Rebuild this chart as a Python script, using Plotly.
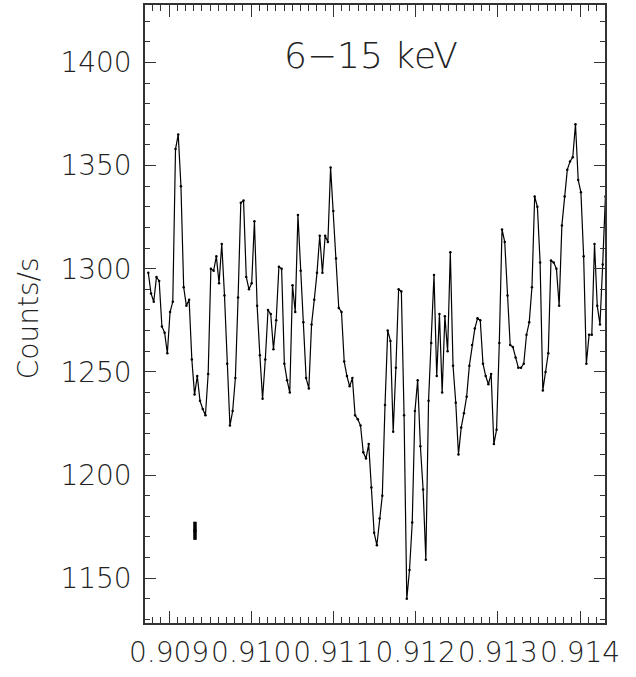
import numpy as np
import plotly.graph_objects as go

# Count rate (counts/s) per time bin
rate = [
    1298, 1288, 1284, 1296, 1294, 1272, 1269, 1259, 1279, 1284,
    1358, 1365, 1340, 1291, 1282, 1285, 1256, 1239, 1248, 1236,
    1232, 1229, 1249, 1300, 1299, 1306, 1293, 1312, 1287, 1254,
    1224, 1231, 1247, 1286, 1332, 1333, 1296, 1290, 1293, 1323,
    1282, 1258, 1237, 1256, 1280, 1278, 1261, 1275, 1301, 1300,
    1254, 1246, 1240, 1292, 1279, 1326, 1299, 1274, 1247, 1242,
    1273, 1285, 1298, 1316, 1298, 1316, 1313, 1349, 1328, 1305,
    1281, 1279, 1255, 1248, 1243, 1247, 1229, 1227, 1224, 1211,
    1208, 1215, 1194, 1172, 1166, 1179, 1190, 1234, 1270, 1265,
    1221, 1252, 1290, 1289, 1229, 1140, 1154, 1177, 1231, 1246,
    1214, 1193, 1159, 1236, 1264, 1297, 1248, 1278, 1240, 1277,
    1260, 1308, 1253, 1235, 1210, 1223, 1230, 1238, 1253, 1263,
    1271, 1276, 1275, 1254, 1248, 1244, 1249, 1215, 1222, 1264,
    1319, 1313, 1287, 1263, 1262, 1257, 1252, 1252, 1254, 1268,
    1274, 1291, 1335, 1330, 1303, 1241, 1250, 1259, 1304, 1303,
    1300, 1282, 1321, 1335, 1348, 1352, 1354, 1370, 1343, 1337,
    1306, 1254, 1268, 1268, 1312, 1282, 1273, 1302, 1335,
]

# Uniform time binning of the light curve (first bin centre and bin width)
T0 = 0.9087482
DT = 0.0000331
phase = [T0 + DT * i for i in range(len(rate))]

# Representative error bar
err_x = [0.909316]
err_y = [1173.0]
err_half = [4.4]

x_range = [0.908708, 0.914304]
y_range = [1128.3, 1427.8]
x_tickvals = [0.909, 0.910, 0.911, 0.912, 0.913, 0.914]
x_ticktext = ["0.909", "0.910", "0.911", "0.912", "0.913", "0.914"]
y_tickvals = [1150, 1200, 1250, 1300, 1350, 1400]
y_ticktext = ["1150", "1200", "1250", "1300", "1350", "1400"]

title_text = "6\u221215 keV"
ylabel_text = "Counts/s"

FONT = "DejaVu Sans"
AX = "#333333"
TXT = "#222222"

fig = go.Figure()
fig.add_trace(go.Scatter(
    x=phase, y=rate, mode="lines+markers",
    line=dict(color="black", width=1.2),
    marker=dict(color="black", size=2.5),
    showlegend=False, cliponaxis=True,
))
fig.add_trace(go.Scatter(
    x=err_x, y=err_y, mode="markers",
    marker=dict(color="black", size=3, symbol="square"),
    error_y=dict(type="data", array=err_half, color="black", thickness=3.5, width=0),
    showlegend=False,
))

axis_common = dict(
    showgrid=False, zeroline=False, showline=True, linecolor=AX, linewidth=1.5,
    mirror="allticks", ticks="inside", tickcolor=AX, tickwidth=1.2,
    automargin=False, tickangle=0,
    tickfont=dict(family=FONT, size=28, color=TXT, weight=200),
)

fig.update_xaxes(
    range=x_range, tickmode="array", tickvals=x_tickvals, ticktext=x_ticktext,
    ticklen=12,
    minor=dict(dtick=0.0001, tick0=0.909, ticks="inside", ticklen=6, tickcolor=AX, tickwidth=1.2),
    ticklabelstandoff=4,
    **axis_common,
)
fig.update_yaxes(
    range=y_range, tickmode="array", tickvals=y_tickvals, ticktext=y_ticktext,
    ticklen=11,
    minor=dict(dtick=10, tick0=1150, ticks="inside", ticklen=5, tickcolor=AX, tickwidth=1.2),
    ticklabelstandoff=6,
    **axis_common,
)

fig.add_annotation(
    text=title_text, xref="paper", yref="paper", x=0.491, y=0.919,
    showarrow=False, xanchor="center", yanchor="middle",
    font=dict(family=FONT, size=36, color=TXT, weight=200),
)
fig.add_annotation(
    text=ylabel_text, xref="paper", yref="paper", x=-0.254, y=0.4935,
    showarrow=False, xanchor="center", yanchor="middle", textangle=-90,
    font=dict(family=FONT, size=28, color=TXT, weight=200),
)

fig.update_layout(
    width=636, height=677,
    margin=dict(l=145, r=31, t=5, b=54),
    paper_bgcolor="white", plot_bgcolor="white",
)

fig.write_html(
    "out.html",
    config={"displayModeBar": False},
    post_script="document.body.style.margin='0px';",
)
